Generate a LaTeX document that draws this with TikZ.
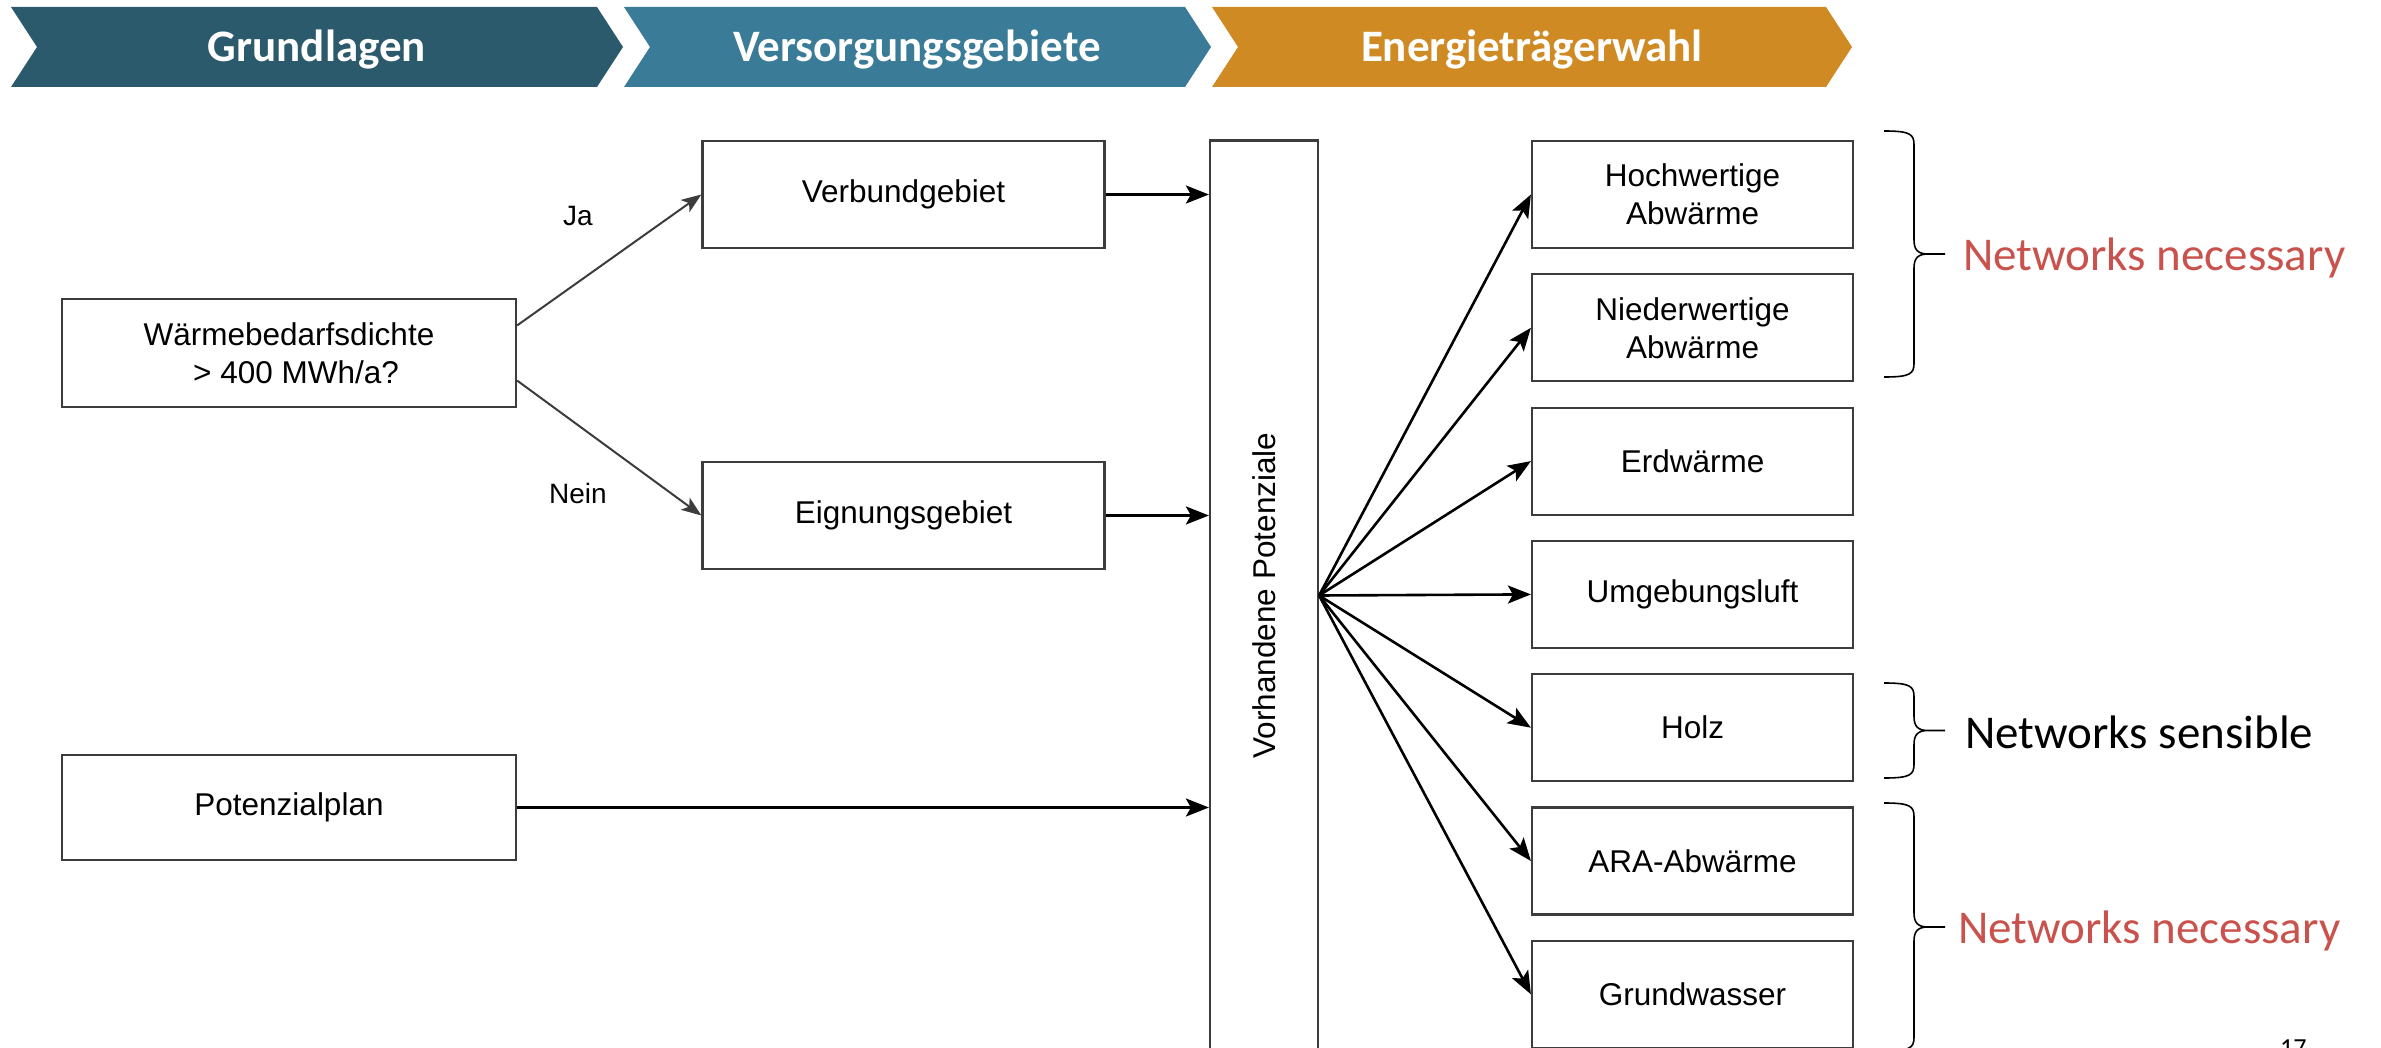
\documentclass[tikz,border=0pt]{standalone}
\usepackage{fontspec}
\newfontfamily\boxfont{Liberation Sans}
\newfontfamily\slidefont{Carlito}
\usetikzlibrary{arrows.meta,calc}

\definecolor{stageone}{HTML}{2C5A6D}
\definecolor{stagetwo}{HTML}{3A7B97}
\definecolor{stagethree}{HTML}{D08A23}
\definecolor{boxline}{HTML}{3C3C3C}
\definecolor{netred}{HTML}{C9524D}

\tikzset{
stage/.style={
  anchor=base,
  inner sep=0pt,
  text=white,
  font=\slidefont\bfseries\fontsize{45}{54}\selectfont,
},
box/.style={
  rectangle,
  draw=boxline,
  line width=2.2pt,
  align=center,
  inner sep=2pt,
  font=\boxfont\fontsize{31.5}{38}\selectfont,
},
srcbox/.style={box, minimum width=454pt, minimum height=108pt},
areabox/.style={box, minimum width=402pt, minimum height=107pt},
potbox/.style={box, minimum width=321pt, minimum height=107pt},
lbl/.style={inner sep=0pt, font=\boxfont\fontsize{28}{34}\selectfont},
decide/.style={draw=boxline, line width=2pt, -{Stealth[length=20pt,width=15pt,inset=5pt]}},
flow/.style={draw=black, line width=2.6pt, -{Stealth[length=23pt,width=18pt,inset=5pt]}},
bracket/.style={draw=black, line width=1.6pt},
note/.style={anchor=base west, inner sep=0pt, font=\slidefont\fontsize{47}{56}\selectfont},
}

% header chevron: left x, upper right x, colour
\newcommand{\stagearrow}[3]{%
  \fill[#3] (#1,7) -- (#2,7) -- ++(26,40) -- (#2,87) -- (#1,87) -- ++(26,-40) -- cycle;}

% curly bracket right of the boxes: top y, bottom y
\newcommand{\netbrace}[2]{%
  \pgfmathsetmacro\bmid{(#1+#2)/2}
  \draw[bracket] (1884,#1) .. controls (1910,#1) and (1914,#1+3) .. (1914,#1+14)
    -- (1914,\bmid-14) .. controls (1914,\bmid-4) and (1918,\bmid) .. (1928,\bmid) -- (1945,\bmid)
    (1928,\bmid) .. controls (1918,\bmid) and (1914,\bmid+4) .. (1914,\bmid+14)
    -- (1914,#2-14) .. controls (1914,#2-3) and (1910,#2) .. (1884,#2);}

\begin{document}
\begin{tikzpicture}[x=1pt,y=-1pt]
\useasboundingbox (0,0) rectangle (2381,1048);

                  % header
\stagearrow{11}{597}{stageone}
\stagearrow{624}{1185}{stagetwo}
\stagearrow{1212}{1826}{stagethree}
\node[stage] (h-1) at (317,62) {Grundlagen};
\node[stage] (h-2) at (917,62) {Versorgungsgebiete};
\node[stage] (h-3) at (1532,62) {Energieträgerwahl};

                  % Grundlagen
\node[srcbox] (dichte) at (289,353) {Wärmebedarfsdichte\\\hspace*{14pt}> 400 MWh/a?};
\node[srcbox, minimum height=105pt] (plan) at (289,807.5) {Potenzialplan};

                  % Versorgungsgebiete
\node[areabox] (verbund) at (903.5,194.5) {Verbundgebiet};
\node[areabox] (eignung) at (903.5,515.5) {Eignungsgebiet};
\node[lbl] (ja) at (578,216) {Ja};
\node[lbl] (nein) at (578,493) {Nein};

                  % Energietraegerwahl
\node[box, minimum width=108pt, minimum height=910pt] (pot) at (1264,595.5)
  {\rotatebox{90}{Vorhandene Potenziale}};
\node[potbox] (p-1) at (1692.5,194.5) {Hochwertige\\Abwärme};
\node[potbox] (p-2) at (1692.5,327.8) {Niederwertige\\Abwärme};
\node[potbox] (p-3) at (1692.5,461.1) {Erdwärme};
\node[potbox] (p-4) at (1692.5,594.4) {Umgebungsluft};
\node[potbox] (p-5) at (1692.5,727.7) {Holz};
\node[potbox] (p-6) at (1692.5,861) {ARA-Abwärme};
\node[potbox] (p-7) at (1692.5,994.3) {Grundwasser};

                  % connectors
\draw[decide] ($(dichte.north east)!.25!(dichte.south east)$) -- (verbund.west);
\draw[decide] ($(dichte.north east)!.75!(dichte.south east)$) -- (eignung.west);
\draw[flow] (verbund.east) -- (verbund.east -| pot.west);
\draw[flow] (eignung.east) -- (eignung.east -| pot.west);
\draw[flow] (plan.east) -- (plan.east -| pot.west);
\draw[flow] (pot.east) -- (p-1.west);
\draw[flow] (pot.east) -- (p-2.west);
\draw[flow] (pot.east) -- (p-3.west);
\draw[flow] (pot.east) -- (p-4.west);
\draw[flow] (pot.east) -- (p-5.west);
\draw[flow] (pot.east) -- (p-6.west);
\draw[flow] (pot.east) -- (p-7.west);

                  % brackets
\netbrace{131}{377}
\netbrace{683}{778}
\netbrace{803}{1051}
\node[note, text=netred] (net-1) at (1963,271) {Networks necessary};
\node[note] (net-2) at (1965,748) {Networks sensible};
\node[note, text=netred] (net-3) at (1958,943) {Networks necessary};
\node[note, font=\slidefont\fontsize{26}{30}\selectfont] (page) at (2280,1056) {17};
\end{tikzpicture}
\end{document}
